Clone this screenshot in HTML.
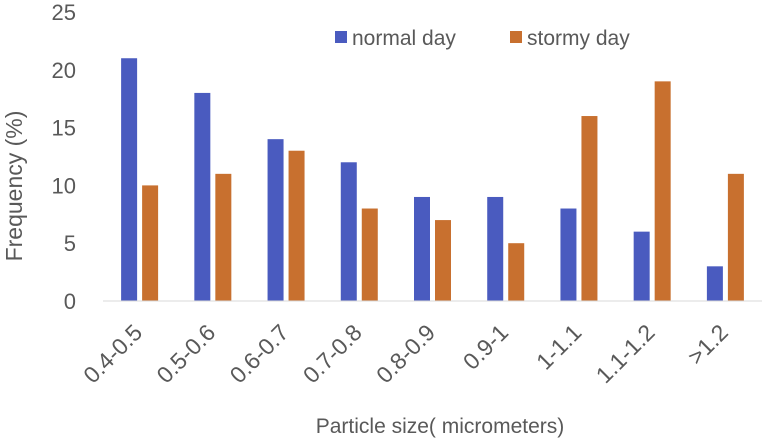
<!DOCTYPE html>
<html><head><meta charset="utf-8">
<style>
body{margin:0;background:#fff;}
svg{display:block;font-family:"Liberation Sans","DejaVu Sans",sans-serif;}
</style></head>
<body>
<svg id="chart" width="766" height="438" viewBox="0 0 766 438">
<g id="yaxis"></g>
<g id="bars"></g>
<g id="xaxis"></g>
<line x1="103" y1="301" x2="762" y2="301" stroke="#d9d9d9" stroke-width="1"/>
<text x="0" y="0" transform="translate(22,186) rotate(-90)" text-anchor="middle" font-size="23" fill="#595959">Frequency (%)</text>
<text x="440" y="433" text-anchor="middle" font-size="21" fill="#595959">Particle size( micrometers)</text>
<g>
<rect x="335" y="31" width="12" height="12" fill="#4a5bbf"/>
<text x="352" y="45" font-size="21" fill="#595959">normal day</text>
<rect x="510" y="31" width="12" height="12" fill="#c8702f"/>
<text x="527" y="45" font-size="21" fill="#595959">stormy day</text>
</g>
</svg>
<script>
const categories=["0.4-0.5","0.5-0.6","0.6-0.7","0.7-0.8","0.8-0.9","0.9-1","1-1.1","1.1-1.2",">1.2"];
const normalDay=[21,18,14,12,9,9,8,6,3];
const stormyDay=[10,11,13,8,7,5,16,19,11];
const yTicks=[0,5,10,15,20,25];
const NS="http://www.w3.org/2000/svg";
const plotLeft=103,plotRight=762,y0=301,yTop=12,yMax=25;
const band=(plotRight-plotLeft)/categories.length;
function yScale(v){return y0-(v/yMax)*(y0-yTop);}
function xCenter(i){return plotLeft+band*(i+0.5);}
function mk(tag,attrs,parent){const e=document.createElementNS(NS,tag);for(const k in attrs)e.setAttribute(k,attrs[k]);parent.appendChild(e);return e;}
const yaxis=document.getElementById('yaxis'),bars=document.getElementById('bars'),xaxis=document.getElementById('xaxis');
yTicks.forEach(t=>{
 const el=mk('text',{x:76,y:yScale(t)+8,'text-anchor':'end','font-size':22,fill:'#595959'},yaxis);
 el.textContent=t;
 
 
});
const bw=16,gap=5;
categories.forEach((c,i)=>{
 const cx=xCenter(i);
 const b1=mk('rect',{x:cx-gap/2-bw,y:yScale(normalDay[i]),width:bw,height:y0-yScale(normalDay[i]),fill:'#4a5bbf'},bars);
 
 
 const b2=mk('rect',{x:cx+gap/2,y:yScale(stormyDay[i]),width:bw,height:y0-yScale(stormyDay[i]),fill:'#c8702f'},bars);
 
 
 const t=mk('text',{x:0,y:0,transform:`translate(${cx+4},${y0+33}) rotate(-45)`,'text-anchor':'end','font-size':23,fill:'#595959'},xaxis);
 t.textContent=c;
 
 
});
</script>
</body></html>
